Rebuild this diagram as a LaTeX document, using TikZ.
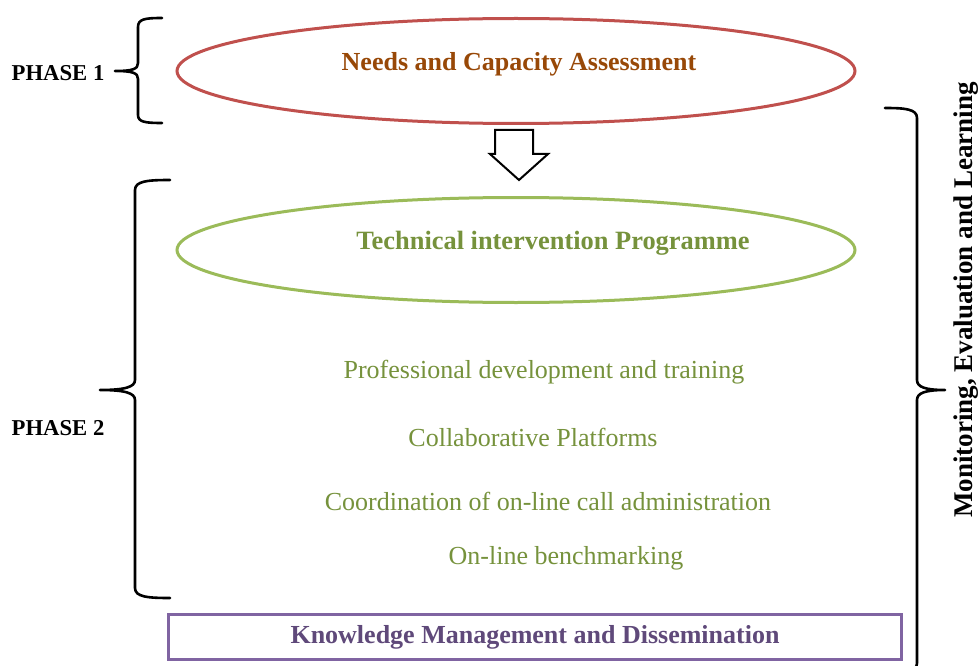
\documentclass[tikz,border=0pt]{standalone}
\usepackage{fontspec}
\setmainfont{Liberation Serif}
\usetikzlibrary{shapes.geometric}
\definecolor{assessred}{HTML}{C0504D}
\definecolor{assessbrown}{HTML}{984807}
\definecolor{progline}{HTML}{9BBB59}
\definecolor{progtext}{HTML}{76923C}
\definecolor{kmline}{HTML}{8064A2}
\definecolor{kmtext}{HTML}{5F497A}
\begin{document}
\begin{tikzpicture}[x=1pt,y=-1pt,
  bracestyle/.style={line width=2.6pt,line cap=round,line join=round},
  phaselabel/.style={font=\fontsize{22.7}{26}\selectfont\bfseries},
  oval/.style={ellipse,line width=3pt,fill=white,minimum width=678pt,minimum height=105pt,inner sep=0pt},
  itemtext/.style={text=progtext,font=\fontsize{26}{30}\selectfont},
]
\clip (0,0) rectangle (980,666);
\fill[white] (0,0) rectangle (980,666);

% Phase 1
\node[phaselabel] (p1) at (58,73) {PHASE 1};
\draw[bracestyle] (162,18) .. controls (145,18) and (138,19) .. (138,27) -- (138,63)
  .. controls (138,69) and (133,71) .. (115,71)
  .. controls (133,71) and (138,73) .. (138,79) -- (138,115)
  .. controls (138,122) and (145,123) .. (162,123);
\node[oval,draw=assessred] (needs) at (516,71) {};
\node[text=assessbrown,font=\fontsize{26}{30}\selectfont\bfseries] (needst) at (519,64) {Needs and Capacity Assessment};

% block arrow between the phases
\draw[line width=2pt,line join=miter,fill=white] (495,130) -- (533,130) -- (533,154) -- (548,154)
  -- (519,180) -- (490,154) -- (495,154) -- cycle;

% Phase 2
\node[phaselabel] (p2) at (58,428) {PHASE 2};
\draw[bracestyle] (170,180) .. controls (148,180) and (135,181) .. (135,190) -- (135,380)
  .. controls (135,387) and (125,390) .. (100,390)
  .. controls (125,390) and (135,393) .. (135,400) -- (135,588)
  .. controls (135,597) and (148,598) .. (170,598);
\node[oval,draw=progline] (tech) at (516,250) {};
\node[text=progtext,font=\fontsize{26.4}{30}\selectfont\bfseries] (techt) at (553,243) {Technical intervention Programme};

\node[itemtext] (i1) at (544,372) {Professional development and training};
\node[itemtext] (i2) at (533,437) {Collaborative Platforms};
\node[itemtext] (i3) at (548,501) {Coordination of on-line call administration};
\node[itemtext] (i4) at (566,558) {On-line benchmarking};

% knowledge management bar
\node[draw=kmline,line width=3pt,fill=white,minimum width=733pt,minimum height=45pt,inner sep=0pt] (km) at (534.5,636.5) {};
\node[text=kmtext,font=\fontsize{26}{30}\selectfont\bfseries] (kmt) at (535,637) {Knowledge Management and Dissemination};

% monitoring brace on the right
\draw[bracestyle] (885,108) .. controls (905,108) and (917,109) .. (917,118) -- (917,380)
  .. controls (917,387) and (925,390) .. (945,390)
  .. controls (925,390) and (917,393) .. (917,400) -- (917,663)
  .. controls (917,672) and (905,673) .. (885,673);
\node[rotate=90,font=\fontsize{27}{31}\selectfont\bfseries] (mel) at (966,300) {Monitoring, Evaluation and Learning};
\end{tikzpicture}
\end{document}
